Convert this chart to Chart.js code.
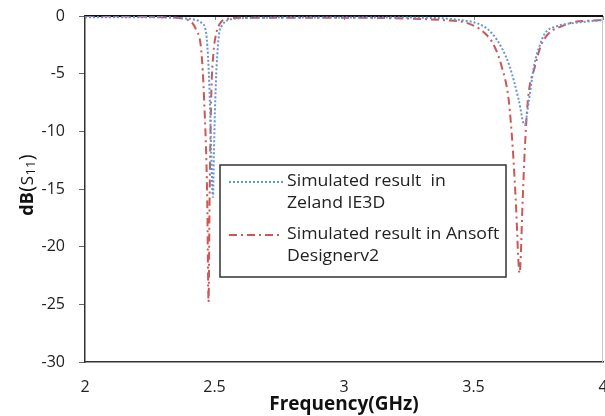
<!DOCTYPE html>
<html>
<head>
<meta charset="utf-8">
<script src="https://cdn.jsdelivr.net/npm/chart.js@4"></script>
<style>
html, body { margin: 0; padding: 0; background: #fff; }
</style>
</head>
<body>
<canvas id="chart" width="605" height="416"></canvas>
<script>
// Zeland IE3D - blue dotted curve
const ie3dFreq = [2.0, 2.2, 2.3, 2.38, 2.42, 2.45, 2.468, 2.477, 2.482, 2.487, 2.494, 2.498, 2.503, 2.508, 2.518, 2.53, 2.552, 2.6, 2.7, 2.9, 3.1, 3.3, 3.377, 3.45, 3.493, 3.54, 3.571, 3.61, 3.64, 3.675, 3.697, 3.714, 3.733, 3.755, 3.776, 3.82, 3.892, 3.95, 4.0];
const ie3dDb   = [-0.1, -0.1, -0.12, -0.2, -0.3, -0.6, -1.5, -4.4, -7.3, -11.6, -15.7, -11.6, -7.3, -4.4, -1.5, -0.8, -0.35, -0.2, -0.15, -0.12, -0.12, -0.15, -0.2, -0.35, -0.5, -0.9, -1.5, -2.8, -4.4, -7.3, -9.45, -7.3, -4.4, -2.6, -1.5, -0.9, -0.6, -0.45, -0.35];

// Ansoft Designer v2 - red dash-dot curve
const ansoftFreq = [2.0, 2.2, 2.3, 2.398, 2.429, 2.449, 2.46, 2.472, 2.477, 2.481, 2.487, 2.496, 2.507, 2.52, 2.534, 2.6, 2.8, 3.0, 3.2, 3.377, 3.474, 3.544, 3.58, 3.609, 3.636, 3.652, 3.663, 3.678, 3.69, 3.698, 3.71, 3.737, 3.76, 3.791, 3.84, 3.892, 3.95, 4.0];
const ansoftDb   = [0, -0.05, -0.1, -0.35, -1.2, -3.0, -7.3, -16.0, -24.8, -16.0, -7.3, -3.2, -1.5, -0.7, -0.35, -0.15, -0.15, -0.15, -0.2, -0.35, -0.6, -1.5, -2.6, -4.4, -7.3, -11.6, -15.9, -22.3, -15.9, -11.6, -7.3, -4.4, -2.6, -1.5, -0.9, -0.5, -0.4, -0.35];

const xTicks = [2, 2.5, 3, 3.5, 4];
const yTicks = [0, -5, -10, -15, -20, -25, -30];
const legendText = [
    ["Simulated result  in", "Zeland IE3D"],
    ["Simulated result in Ansoft", "Designerv2"]
];

const FONT = "'Open Sans', 'DejaVu Sans', sans-serif";
const BLUE = "#6496d6";
const RED = "#cc5855";

// top axis line, small ticks, right edge
const framePlugin = {
    id: "frame",
    beforeDatasetsDraw(chart) {
        const { ctx, chartArea: a, scales } = chart;
        ctx.save();
        ctx.strokeStyle = "#c8c8c8";
        ctx.lineWidth = 1;
        ctx.beginPath();
        ctx.moveTo(a.right - 0.5, a.top);
        ctx.lineTo(a.right - 0.5, a.bottom);
        ctx.stroke();
        ctx.strokeStyle = "#888";
        xTicks.forEach(v => {
            const x = Math.round(scales.x.getPixelForValue(v)) + 0.5;
            ctx.beginPath();
            ctx.moveTo(x, a.top);
            ctx.lineTo(x, a.top + 4);
            ctx.stroke();
        });
        ctx.strokeStyle = "#111";
        ctx.lineWidth = 2;
        ctx.beginPath();
        ctx.moveTo(a.left, a.top);
        ctx.lineTo(a.right, a.top);
        ctx.stroke();
        ctx.restore();
    }
};

// y title with the "11" set as a subscript
const yTitlePlugin = {
    id: "yTitle",
    afterDraw(chart) {
        const ctx = chart.ctx;
        const parts = [
            { t: "dB", f: "bold 18px " + FONT, dy: 0 },
            { t: "(", f: "20px " + FONT, dy: 0 },
            { t: "S", f: "17px " + FONT, dy: 0 },
            { t: "11", f: "13px " + FONT, dy: 2 },
            { t: ")", f: "20px " + FONT, dy: 0 }
        ];
        ctx.save();
        ctx.translate(33, 186);
        ctx.rotate(-Math.PI / 2);
        ctx.fillStyle = "#111";
        ctx.textBaseline = "alphabetic";
        let total = 0;
        parts.forEach(p => { ctx.font = p.f; p.w = ctx.measureText(p.t).width; total += p.w; });
        let x = -total / 2;
        parts.forEach(p => { ctx.font = p.f; ctx.fillText(p.t, x, p.dy); x += p.w + 0.5; });
        ctx.restore();
    }
};

// boxed legend with two-line labels
const legendPlugin = {
    id: "boxLegend",
    afterDatasetsDraw(chart) {
        const ctx = chart.ctx;
        const box = { x: 220, y: 165, w: 286, h: 112 };
        ctx.save();
        ctx.fillStyle = "#fff";
        ctx.fillRect(box.x, box.y, box.w, box.h);
        ctx.strokeStyle = "#333";
        ctx.lineWidth = 1.5;
        ctx.strokeRect(box.x, box.y, box.w, box.h);
        ctx.font = "15.5px " + FONT;
        ctx.fillStyle = "#222";
        ctx.textBaseline = "middle";
        const rows = [182, 235];
        chart.data.datasets.forEach((ds, i) => {
            const y = rows[i];
            ctx.strokeStyle = ds.borderColor;
            ctx.lineWidth = ds.borderWidth;
            ctx.setLineDash(ds.borderDash);
            ctx.beginPath();
            ctx.moveTo(229, y);
            ctx.lineTo(283, y);
            ctx.stroke();
            ctx.setLineDash([]);
            ctx.save();
            ctx.translate(287, 0);
            ctx.scale(1.14, 1);
            ctx.fillText(legendText[i][0], 0, y);
            ctx.fillText(legendText[i][1], 0, y + 22);
            ctx.restore();
        });
        ctx.restore();
    }
};

new Chart(document.getElementById("chart"), {
    type: "line",
    data: {
        datasets: [{
            label: legendText[0].join(" "),
            data: ie3dFreq.map((f, i) => ({ x: f, y: ie3dDb[i] })),
            borderColor: BLUE,
            borderWidth: 2,
            borderDash: [2, 2],
            pointRadius: 0,
            fill: false,
            cubicInterpolationMode: "monotone"
        }, {
            label: legendText[1].join(" "),
            data: ansoftFreq.map((f, i) => ({ x: f, y: ansoftDb[i] })),
            borderColor: RED,
            borderWidth: 2,
            borderDash: [8, 4, 2, 4],
            pointRadius: 0,
            fill: false,
            cubicInterpolationMode: "monotone"
        }]
    },
    options: {
        responsive: false,
        animation: false,
        devicePixelRatio: 1,
        layout: { padding: { top: 16, right: 2, left: 0, bottom: 0 } },
        plugins: { legend: { display: false }, tooltip: { enabled: false } },
        scales: {
            x: {
                type: "linear",
                min: 2,
                max: 4,
                afterBuildTicks: s => { s.ticks = xTicks.map(v => ({ value: v })); },
                afterFit: s => { s.height = 54; s.paddingLeft = 0; s.paddingRight = 0; },
                grid: { display: false, drawTicks: false },
                border: { color: "#333", width: 1.5 },
                ticks: { color: "#222", padding: 16, font: { family: FONT, size: 16 }, maxRotation: 0, callback: v => String(v) },
                title: { display: true, text: "Frequency(GHz)", color: "#111", padding: { top: 0, bottom: 0 }, font: { family: FONT, size: 19, weight: "bold" } }
            },
            y: {
                min: -30,
                max: 0,
                afterBuildTicks: s => { s.ticks = yTicks.map(v => ({ value: v })); },
                afterFit: s => { s.width = 85; s.paddingTop = 0; s.paddingBottom = 0; },
                grid: { drawOnChartArea: false, tickLength: 6, color: "#666" },
                border: { color: "#333", width: 1.5 },
                ticks: { color: "#222", padding: 14, font: { family: FONT, size: 16 } },
                title: { display: false }
            }
        }
    },
    plugins: [framePlugin, legendPlugin, yTitlePlugin]
});
</script>
</body>
</html>
